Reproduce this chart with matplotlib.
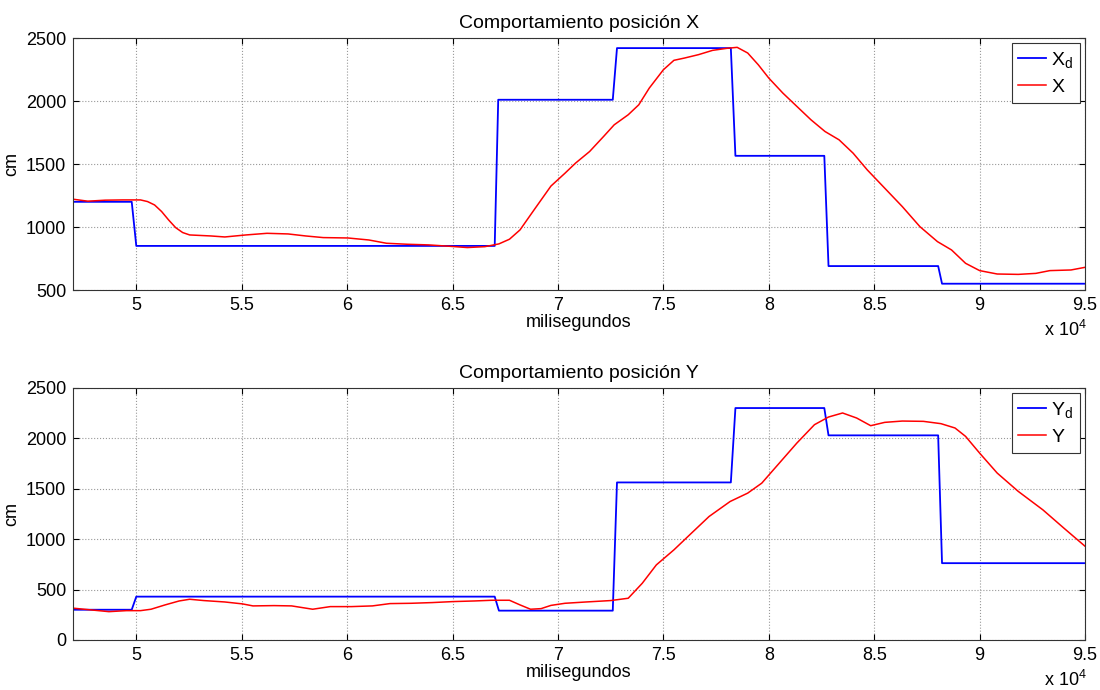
import matplotlib
matplotlib.use("Agg")
import matplotlib.pyplot as plt
import numpy as np

plt.rcParams['font.family'] = ['Liberation Sans', 'DejaVu Sans']
plt.rcParams['font.size'] = 13

# desired X (step reference), ms / cm
xd_t = [47000, 49783, 50000, 67000, 67167, 72600, 72800, 78200, 78417,
        82633, 82833, 88033, 88217, 95000]
xd_v = [1200, 1200, 850, 850, 2010, 2010, 2420, 2420, 1565,
        1565, 690, 690, 550, 550]

# measured X
x_t = [47033, 47700, 48533, 49367, 50200, 50533, 50867, 51200, 51533, 51867,
       52200, 52533, 53533, 54200, 55200, 56200, 57200, 58033, 58867, 60033,
       61033, 61867, 62867, 63867, 64867, 65700, 66533, 67200, 67700, 68200,
       68867, 69667, 70333, 70833, 71500, 72167, 72667, 73333, 73833, 74333,
       75000, 75500, 76000, 76667, 77333, 78000, 78500, 79000, 79500, 80000,
       80667, 81333, 82000, 82667, 83333, 84000, 84667, 85500, 86333, 87167,
       88000, 88667, 89333, 90000, 90833, 91833, 92667, 93333, 94333, 95000]
x_v = [1220, 1205, 1213, 1215, 1215, 1202, 1175, 1123, 1056, 995,
       956, 937, 929, 921, 937, 950, 945, 929, 916, 913,
       897, 871, 863, 858, 847, 837, 844, 866, 903, 977,
       1136, 1325, 1427, 1507, 1599, 1719, 1811, 1891, 1970, 2103,
       2248, 2323, 2341, 2368, 2402, 2418, 2426, 2381, 2288, 2182,
       2063, 1957, 1851, 1758, 1692, 1586, 1454, 1308, 1162, 1003,
       884, 818, 712, 654, 627, 624, 632, 654, 659, 680]

# desired Y
yd_t = [47000, 49783, 50000, 67000, 67200, 72600, 72800, 78200, 78417,
        82633, 82833, 88033, 88217, 95000]
yd_v = [300, 300, 430, 430, 291, 291, 1563, 1563, 2301,
        2301, 2030, 2030, 762, 762]

# measured Y
y_t = [47033, 47867, 48700, 49533, 50200, 50700, 51367, 52033, 52533, 53200,
       54200, 55033, 55533, 56533, 57367, 58367, 59200, 60200, 61200, 62033,
       63033, 64033, 65033, 66033, 66867, 67700, 68200, 68700, 69200, 69667,
       70333, 71333, 72500, 73333, 74000, 74667, 75500, 76333, 77167, 78167,
       79000, 79667, 80500, 81333, 82167, 82833, 83500, 84167, 84833, 85500,
       86333, 87333, 88167, 88833, 89333, 90000, 90833, 91833, 93000, 94000,
       95000]
y_v = [315, 298, 281, 291, 291, 305, 348, 387, 404, 391,
       377, 358, 338, 341, 338, 305, 331, 331, 338, 361,
       364, 371, 381, 387, 394, 394, 348, 305, 311, 343,
       364, 377, 391, 414, 563, 745, 894, 1060, 1225, 1374,
       1457, 1556, 1755, 1954, 2136, 2212, 2252, 2202, 2126, 2159,
       2172, 2169, 2146, 2103, 2020, 1854, 1656, 1474, 1291, 1109,
       930]

xticks = [50000, 55000, 60000, 65000, 70000, 75000, 80000, 85000, 90000, 95000]

fig = plt.figure(figsize=(11, 6.9), dpi=100)
ax1 = fig.add_axes((0.0664, 0.5797, 0.92, 0.3652))
ax2 = fig.add_axes((0.0664, 0.0725, 0.92, 0.3652))

panels = [
    (ax1, xd_t, xd_v, x_t, x_v, r'$\mathregular{X_d}$', 'X',
     u'Comportamiento posici\u00f3n X', (500, 2500), range(500, 2501, 500)),
    (ax2, yd_t, yd_v, y_t, y_v, r'$\mathregular{Y_d}$', 'Y',
     u'Comportamiento posici\u00f3n Y', (0, 2500), range(0, 2501, 500)),
]

for ax, dt, dv, mt, mv, lab_d, lab_m, title, ylim, yt in panels:
    ax.plot(dt, dv, color=(0, 0, 1), lw=1.3, label=lab_d)
    ax.plot(mt, mv, color=(1, 0, 0), lw=1.1, label=lab_m)
    ax.set_xlim(47000, 95000)
    ax.set_ylim(*ylim)
    ax.set_yticks(list(yt))
    ax.set_xticks(xticks)
    ax.set_xticklabels(['%g' % (t / 1e4) for t in xticks])
    ax.grid(True, linestyle=':', color='#999999', lw=0.8)
    ax.tick_params(direction='in', top=True, right=True, length=4,
                   labelsize=13, pad=5)
    for s in ax.spines.values():
        s.set_color('#333333')
        s.set_linewidth(0.8)
    ax.set_title(title, fontsize=14, pad=7)
    ax.set_ylabel('cm', fontsize=13, labelpad=4)
    ax.set_xlabel('milisegundos', fontsize=13, labelpad=0)
    ax.text(1.002, -0.16, r'x 10$^\mathregular{4}$', transform=ax.transAxes,
            ha='right', va='center', fontsize=13)
    leg = ax.legend(loc='upper right', fancybox=False, framealpha=1,
                    edgecolor='#333333', fontsize=14, handlelength=1.4,
                    borderpad=0.35, labelspacing=0.45, handletextpad=0.3,
                    borderaxespad=0.25)
    leg.get_frame().set_linewidth(0.8)

fig.savefig('out.png', dpi=100)
